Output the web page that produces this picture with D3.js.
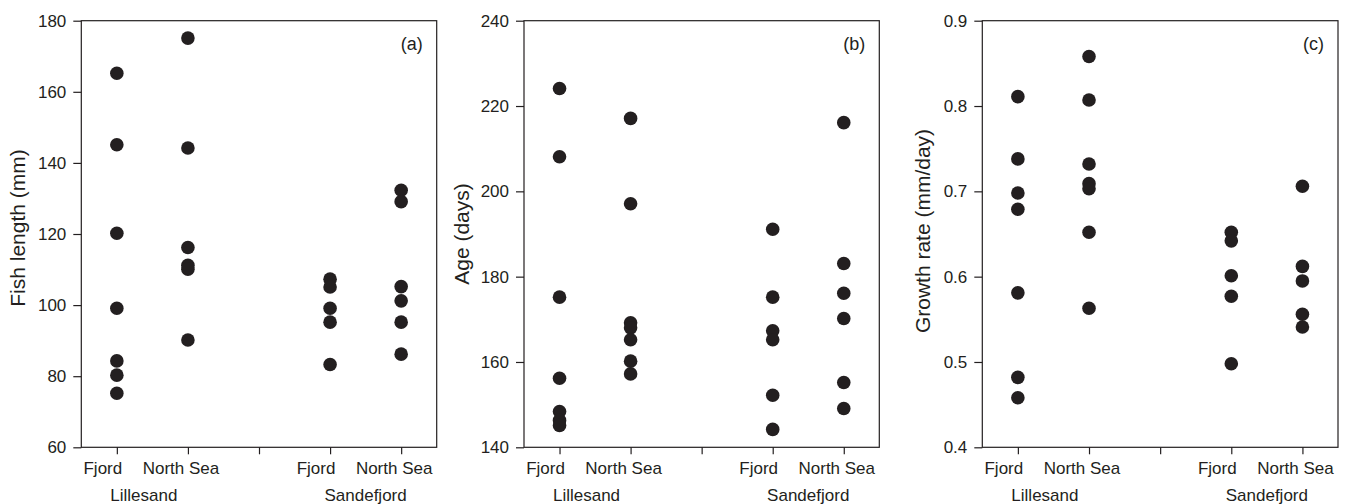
<!DOCTYPE html>
<html>
<head>
<meta charset="utf-8">
<script src="https://cdn.jsdelivr.net/npm/d3@7"></script>
<style>
  body { margin: 0; background: #fff; }
  svg { display: block; }
  text { font-family: "Liberation Sans", Arial, sans-serif; fill: #231f20; }
</style>
</head>
<body>
<div id="chart"></div>
<script>
//categories along the x axis (position 3 is an empty gap)
var sites = ["Fjord", "North Sea", "", "Fjord", "North Sea"];
var groups = ["Lillesand", "Sandefjord"];

//panel (a) fish length (mm)
var lengthLilFjord = [165.2, 145.1, 120.2, 99.1, 84.3, 80.3, 75.2];
var lengthLilNorth = [175.1, 144.2, 116.2, 111.2, 110.1, 90.2];
var lengthSanFjord = [107.3, 105.1, 99.1, 95.2, 83.3];
var lengthSanNorth = [132.3, 129.1, 105.2, 101.2, 95.2, 86.2];

//panel (b) age (days)
var ageLilFjord = [224.1, 208.1, 175.2, 156.2, 148.4, 146.3, 145.1];
var ageLilNorth = [217.1, 197.1, 169.2, 168.0, 165.2, 160.2, 157.2];
var ageSanFjord = [191.1, 175.2, 167.3, 165.2, 152.2, 144.2];
var ageSanNorth = [216.1, 183.1, 176.1, 170.2, 155.2, 149.1];

//panel (c) growth rate (mm/day)
var growthLilFjord = [0.811, 0.738, 0.698, 0.679, 0.581, 0.482, 0.458];
var growthLilNorth = [0.858, 0.807, 0.732, 0.709, 0.703, 0.652, 0.563];
var growthSanFjord = [0.652, 0.642, 0.601, 0.577, 0.498];
var growthSanNorth = [0.706, 0.612, 0.595, 0.556, 0.541];

//y tick values
var lengthTicks = [60, 80, 100, 120, 140, 160, 180];
var ageTicks = [140, 160, 180, 200, 220, 240];
var growthTicks = [0.4, 0.5, 0.6, 0.7, 0.8, 0.9];

//panel definitions
var panels = [
  { tag: "(a)", label: "Fish length (mm)", domain: [60, 180], ticks: lengthTicks, fmt: d3.format("d"),
    series: [lengthLilFjord, lengthLilNorth, null, lengthSanFjord, lengthSanNorth],
    left: 81.3, width: 355.4, labelX: -56, labelY: -6 },
  { tag: "(b)", label: "Age (days)", domain: [140, 240], ticks: ageTicks, fmt: d3.format("d"),
    series: [ageLilFjord, ageLilNorth, null, ageSanFjord, ageSanNorth],
    left: 524, width: 355.3, labelX: -55, labelY: 0 },
  { tag: "(c)", label: "Growth rate (mm/day)", domain: [0.4, 0.9], ticks: growthTicks, fmt: d3.format(".1f"),
    series: [growthLilFjord, growthLilNorth, null, growthSanFjord, growthSanNorth],
    left: 982.3, width: 355.7, labelX: -52, labelY: -3 }
];

var svgWidth = 1349;
var svgHeight = 504;
var plotTop = 20.7;
var height = 447.3 - plotTop;

var svg = d3.select("#chart")
  .append("svg")
  .attr("width", svgWidth)
  .attr("height", svgHeight);

var ink = "#231f20";

panels.forEach(function(p) {
  var g = svg.append("g")
    .attr("transform", `translate(${p.left}, ${plotTop})`);

  //scales
  var xScale = d3.scaleLinear().domain([0.5, 5.5]).range([0, p.width]);
  var yScale = d3.scaleLinear().domain(p.domain).range([height, 0]);

  //frame
  g.append("rect")
    .attr("width", p.width)
    .attr("height", height)
    .attr("fill", "none")
    .attr("stroke", ink)
    .attr("stroke-width", 1.2);

  //left axis
  var leftAxis = d3.axisLeft(yScale)
    .tickValues(p.ticks)
    .tickFormat(p.fmt)
    .tickSize(8)
    .tickPadding(7);
  var yAxis = g.append("g").call(leftAxis);
  yAxis.select(".domain").remove();
  yAxis.selectAll("line").attr("stroke", ink).attr("stroke-width", 1.2);
  yAxis.selectAll("text")
    .attr("font-size", 17)
    .attr("font-family", "Liberation Sans, Arial, sans-serif")
    .attr("fill", ink);

  //bottom axis, ticks only (labels are drawn separately below)
  var bottomAxis = d3.axisBottom(xScale)
    .tickValues([1, 2, 3, 4, 5])
    .tickFormat("")
    .tickSize(7);
  var xAxis = g.append("g")
    .attr("transform", `translate(0, ${height})`)
    .call(bottomAxis);
  xAxis.select(".domain").remove();
  xAxis.selectAll("line").attr("stroke", ink).attr("stroke-width", 1.2);

  //site labels (slightly shifted left like the original)
  sites.forEach(function(s, i) {
    if (s === "") return;
    g.append("text")
      .attr("x", xScale(i + 1) + (s === "Fjord" ? -14 : -7))
      .attr("y", 474 - plotTop)
      .attr("text-anchor", "middle")
      .attr("font-size", 17)
      .text(s);
  });

  //group labels
  g.append("text")
    .attr("x", xScale(1.38))
    .attr("y", 501 - plotTop)
    .attr("text-anchor", "middle")
    .attr("font-size", 17)
    .text(groups[0]);
  g.append("text")
    .attr("x", xScale(4.5))
    .attr("y", 501 - plotTop)
    .attr("text-anchor", "middle")
    .attr("font-size", 17)
    .text(groups[1]);

  //y axis title
  g.append("text")
    .attr("transform", `translate(${p.labelX}, ${height / 2 + p.labelY}) rotate(-90)`)
    .attr("text-anchor", "middle")
    .attr("font-size", 21)
    .text(p.label);

  //panel tag
  g.append("text")
    .attr("x", p.width - 14)
    .attr("y", 50 - plotTop)
    .attr("text-anchor", "end")
    .attr("font-size", 18)
    .text(p.tag);

  //points
  p.series.forEach(function(vals, i) {
    if (!vals) return;
    g.selectAll(null)
      .data(vals)
      .enter()
      .append("circle")
      .attr("cx", xScale(i + 1))
      .attr("cy", d => yScale(d))
      .attr("r", 6.8)
      .attr("fill", ink);
  });
});
</script>
</body>
</html>
